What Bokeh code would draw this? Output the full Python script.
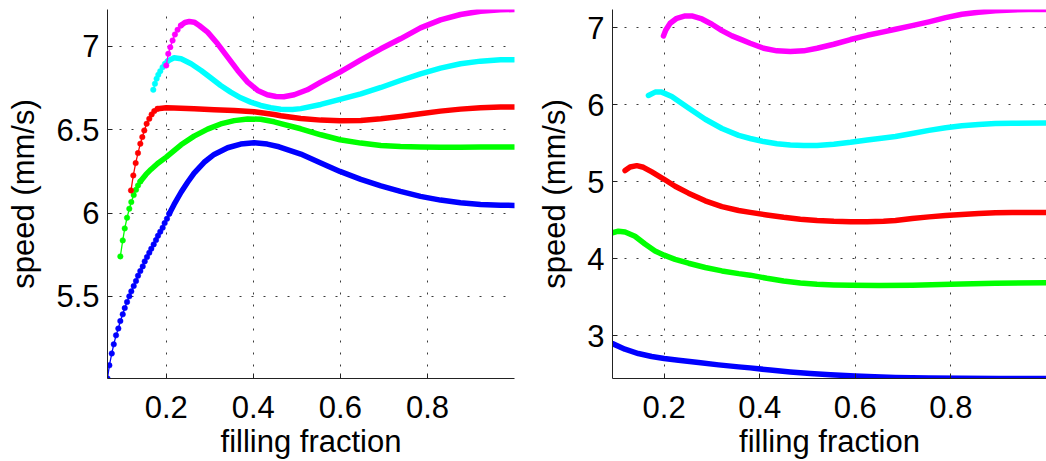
from bokeh.plotting import figure
from bokeh.layouts import row
from bokeh.models import Range1d, FixedTicker
from bokeh.embed import file_html
from bokeh.resources import INLINE

# ---------------- left panel: speed vs filling fraction ----------------
L_BLUE_HEAD_X = [0.065, 0.0693, 0.0748, 0.0794, 0.0846, 0.0899, 0.0945, 0.1000, 0.1046, 0.1099,
                 0.1151, 0.1197, 0.1252, 0.1305, 0.1351, 0.1404, 0.1459, 0.1505, 0.1557, 0.1610,
                 0.1656, 0.1711, 0.1764, 0.1810, 0.1862, 0.1917, 0.1963, 0.2016, 0.2069]
L_BLUE_HEAD_Y = [5.007, 5.086, 5.157, 5.212, 5.266, 5.307, 5.352, 5.392, 5.430, 5.466,
                 5.500, 5.530, 5.562, 5.592, 5.624, 5.652, 5.680, 5.710, 5.736, 5.762,
                 5.786, 5.812, 5.838, 5.864, 5.888, 5.912, 5.940, 5.966, 5.996]
L_BLUE_TAIL_X = [0.2069, 0.218, 0.234, 0.249, 0.264, 0.287, 0.31, 0.341, 0.371, 0.402, 0.432, 0.459,
                 0.509, 0.555, 0.599, 0.647, 0.693, 0.738, 0.784, 0.83, 0.876, 0.922, 0.968, 1.0]
L_BLUE_TAIL_Y = [5.996, 6.052, 6.125, 6.185, 6.24, 6.305, 6.352, 6.392, 6.414, 6.422, 6.414, 6.398,
                 6.354, 6.3, 6.25, 6.202, 6.163, 6.13, 6.1, 6.078, 6.062, 6.052, 6.047, 6.046]

L_GREEN_HEAD_X = [0.0945, 0.1, 0.1046, 0.1099, 0.1151, 0.1197, 0.1252, 0.1305, 0.1351, 0.1404]
L_GREEN_HEAD_Y = [5.74, 5.836, 5.908, 5.972, 6.026, 6.066, 6.108, 6.14, 6.166, 6.19]
L_GREEN_TAIL_X = [0.1404, 0.1534, 0.1648, 0.1801, 0.2, 0.211, 0.234, 0.264, 0.295, 0.325, 0.356,
                  0.387, 0.417, 0.448, 0.463, 0.509, 0.555, 0.599, 0.647, 0.693, 0.738, 0.784,
                  0.83, 0.876, 0.922, 0.968, 1.0]
L_GREEN_TAIL_Y = [6.19, 6.232, 6.262, 6.298, 6.336, 6.36, 6.41, 6.462, 6.504, 6.535, 6.555,
                  6.565, 6.563, 6.548, 6.537, 6.506, 6.47, 6.44, 6.42, 6.406, 6.399, 6.396,
                  6.395, 6.395, 6.396, 6.396, 6.396]

L_RED_HEAD_X = [0.119, 0.1243, 0.1297, 0.135, 0.1404, 0.145, 0.1495, 0.1549, 0.161, 0.1664, 0.1725, 0.18]
L_RED_HEAD_Y = [6.136, 6.226, 6.30, 6.36, 6.416, 6.456, 6.496, 6.536, 6.566, 6.592, 6.612, 6.626]
L_RED_TAIL_X = [0.18, 0.2, 0.218, 0.264, 0.31, 0.356, 0.402, 0.448, 0.463, 0.509, 0.555, 0.599,
                0.647, 0.693, 0.738, 0.784, 0.83, 0.876, 0.922, 0.968, 1.0]
L_RED_TAIL_Y = [6.626, 6.632, 6.63, 6.626, 6.62, 6.616, 6.608, 6.592, 6.584, 6.568, 6.558, 6.554,
                6.556, 6.566, 6.58, 6.596, 6.612, 6.624, 6.632, 6.636, 6.637]

L_CYAN_HEAD_X = [0.1702, 0.174, 0.1778, 0.1817, 0.1862, 0.1916, 0.197, 0.203]
L_CYAN_HEAD_Y = [6.74, 6.776, 6.806, 6.83, 6.852, 6.876, 6.896, 6.912]
L_CYAN_TAIL_X = [0.203, 0.218, 0.234, 0.257, 0.28, 0.302, 0.325, 0.348, 0.371, 0.394, 0.417, 0.44,
                 0.463, 0.49, 0.509, 0.555, 0.599, 0.647, 0.693, 0.738, 0.784, 0.83, 0.876, 0.922,
                 0.968, 1.0]
L_CYAN_TAIL_Y = [6.912, 6.932, 6.926, 6.896, 6.856, 6.812, 6.766, 6.726, 6.692, 6.666, 6.646, 6.632,
                 6.623, 6.622, 6.627, 6.652, 6.682, 6.716, 6.754, 6.796, 6.836, 6.87, 6.896, 6.912,
                 6.92, 6.921]

L_MAG_HEAD_X = [0.2, 0.2046, 0.2092, 0.2145, 0.2199, 0.226, 0.2336]
L_MAG_HEAD_Y = [6.886, 6.956, 6.996, 7.036, 7.072, 7.10, 7.126]
L_MAG_TAIL_X = [0.2336, 0.2428, 0.2528, 0.2642, 0.2757, 0.295, 0.318, 0.341, 0.364, 0.387, 0.41,
                0.432, 0.452, 0.47, 0.494, 0.524, 0.555, 0.599, 0.647, 0.693, 0.738, 0.784, 0.83,
                0.876, 0.922, 0.968, 1.0]
L_MAG_TAIL_Y = [7.126, 7.144, 7.15, 7.146, 7.126, 7.086, 7.016, 6.936, 6.856, 6.786, 6.736,
                6.71, 6.70, 6.698, 6.71, 6.74, 6.786, 6.846, 6.92, 6.986, 7.046, 7.112, 7.16,
                7.192, 7.212, 7.22, 7.222]

# ---------------- right panel ----------------
R_BLUE_X = [0.092, 0.118, 0.146, 0.174, 0.2, 0.23, 0.272, 0.314, 0.356, 0.38, 0.422, 0.464, 0.506,
            0.548, 0.6, 0.64, 0.684, 0.754, 0.823, 0.9, 1.0]
R_BLUE_Y = [2.896, 2.823, 2.767, 2.728, 2.702, 2.68, 2.65, 2.62, 2.594, 2.581, 2.553, 2.528, 2.508,
            2.492, 2.477, 2.465, 2.455, 2.448, 2.445, 2.443, 2.443]

R_GREEN_X = [0.092, 0.1044, 0.1183, 0.139, 0.16, 0.181, 0.2, 0.223, 0.251, 0.286, 0.321, 0.356,
             0.38, 0.415, 0.45, 0.485, 0.52, 0.555, 0.59, 0.65, 0.72, 0.8, 0.893, 1.0]
R_GREEN_Y = [4.335, 4.356, 4.345, 4.29, 4.19, 4.1, 4.045, 3.99, 3.94, 3.885, 3.84, 3.805,
             3.785, 3.745, 3.71, 3.684, 3.667, 3.658, 3.653, 3.65, 3.655, 3.668, 3.68, 3.687]

R_RED_X = [0.1183, 0.1288, 0.1428, 0.1567, 0.1742, 0.2, 0.223, 0.251, 0.286, 0.321, 0.356, 0.38,
           0.415, 0.45, 0.485, 0.52, 0.555, 0.59, 0.625, 0.659, 0.684, 0.719, 0.754, 0.789, 0.823,
           0.858, 0.893, 0.928, 1.0]
R_RED_Y = [5.143, 5.19, 5.207, 5.186, 5.125, 5.03, 4.94, 4.85, 4.75, 4.675, 4.625, 4.6,
           4.567, 4.537, 4.512, 4.495, 4.484, 4.479, 4.479, 4.485, 4.495, 4.52, 4.542, 4.559, 4.572,
           4.585, 4.594, 4.598, 4.6]

R_CYAN_X = [0.1672, 0.1812, 0.195, 0.216, 0.251, 0.286, 0.321, 0.356, 0.38, 0.408, 0.436, 0.464,
            0.492, 0.52, 0.555, 0.59, 0.625, 0.659, 0.684, 0.719, 0.754, 0.789, 0.823, 0.858, 0.893,
            0.928, 1.0]
R_CYAN_Y = [6.119, 6.162, 6.162, 6.106, 5.955, 5.81, 5.69, 5.6, 5.56, 5.52, 5.492, 5.475,
            5.468, 5.47, 5.486, 5.51, 5.54, 5.565, 5.585, 5.625, 5.665, 5.7, 5.725, 5.743, 5.753,
            5.758, 5.76]

R_MAG_X = [0.1986, 0.2035, 0.2126, 0.2265, 0.244, 0.258, 0.279, 0.3, 0.321, 0.342, 0.363, 0.38,
           0.408, 0.436, 0.464, 0.492, 0.52, 0.555, 0.59, 0.625, 0.659, 0.684, 0.719, 0.754, 0.789,
           0.823, 0.858, 0.893, 0.928, 0.963, 1.0]
R_MAG_Y = [6.892, 6.97, 7.056, 7.121, 7.151, 7.151, 7.112, 7.043, 6.961, 6.892, 6.84, 6.797,
           6.732, 6.698, 6.689, 6.698, 6.732, 6.784, 6.845, 6.9, 6.945, 6.978, 7.025, 7.075, 7.13,
           7.173, 7.199, 7.22, 7.23, 7.235, 7.235]

X_TICKS = [0.2, 0.4, 0.6, 0.8]
L_Y_TICKS = [5.5, 6, 6.5, 7]
R_Y_TICKS = [3, 4, 5, 6, 7]

COLORS = {"b": "#0000ff", "g": "#00ff00", "r": "#ff0000", "c": "#00ffff", "m": "#ff00ff"}
FONT = "Liberation Sans"


def style(p, yticks):
    p.outline_line_color = None
    p.background_fill_color = "white"
    p.border_fill_color = "white"
    p.xaxis.ticker = FixedTicker(ticks=X_TICKS)
    p.yaxis.ticker = FixedTicker(ticks=yticks)
    p.xaxis.major_label_overrides = {t: f"{t:g}" for t in X_TICKS}
    p.yaxis.major_label_overrides = {t: f"{t:g}" for t in yticks}
    for ax in (p.xaxis[0], p.yaxis[0]):
        ax.axis_line_color = "#222222"
        ax.axis_line_width = 1
        ax.major_tick_in = 5
        ax.major_tick_out = 0
        ax.major_tick_line_color = "#222222"
        ax.minor_tick_line_color = None
        ax.major_label_text_font = FONT
        ax.major_label_text_font_size = "31px"
        ax.major_label_text_color = "black"
        ax.axis_label_text_font = FONT
        ax.axis_label_text_font_size = "31px"
        ax.axis_label_text_font_style = "normal"
        ax.axis_label_text_color = "black"
    p.xaxis.axis_label = "filling fraction"
    p.yaxis.axis_label = "speed (mm/s)"
    p.xaxis.major_label_standoff = 17
    p.xaxis.axis_label_standoff = 3
    p.yaxis.major_label_standoff = 8
    p.yaxis.axis_label_standoff = 12
    for g in (p.xgrid[0], p.ygrid[0]):
        g.grid_line_color = "#3a3a3a"
        g.grid_line_dash = "2 10"
        g.grid_line_width = 1


# left figure
p1 = figure(width=530, height=461, x_range=Range1d(0.065, 1.0), y_range=Range1d(5.007, 7.222),
            output_backend="svg", toolbar_location=None,
            min_border_left=107, min_border_right=16, min_border_top=9, min_border_bottom=83)
style(p1, L_Y_TICKS)

left_curves = [
    ("b", L_BLUE_HEAD_X, L_BLUE_HEAD_Y, L_BLUE_TAIL_X, L_BLUE_TAIL_Y),
    ("g", L_GREEN_HEAD_X, L_GREEN_HEAD_Y, L_GREEN_TAIL_X, L_GREEN_TAIL_Y),
    ("r", L_RED_HEAD_X, L_RED_HEAD_Y, L_RED_TAIL_X, L_RED_TAIL_Y),
    ("c", L_CYAN_HEAD_X, L_CYAN_HEAD_Y, L_CYAN_TAIL_X, L_CYAN_TAIL_Y),
    ("m", L_MAG_HEAD_X, L_MAG_HEAD_Y, L_MAG_TAIL_X, L_MAG_TAIL_Y),
]
for key, hx, hy, tx, ty in left_curves:
    c = COLORS[key]
    # sparse leading samples: thin connecting line with dot markers
    p1.line(hx, hy, line_color=c, line_width=1.3)
    p1.scatter(hx, hy, size=5.5, fill_color=c, line_color=c, line_width=0.5)
    # dense samples merge into a thick band
    p1.line(tx, ty, line_color=c, line_width=5.5, line_cap="round", line_join="round")

# right figure
p2 = figure(width=516, height=461, x_range=Range1d(0.092, 1.0), y_range=Range1d(2.443, 7.235),
            output_backend="svg", toolbar_location=None,
            min_border_left=82, min_border_right=0, min_border_top=9, min_border_bottom=83)
style(p2, R_Y_TICKS)

right_curves = [
    ("b", R_BLUE_X, R_BLUE_Y),
    ("g", R_GREEN_X, R_GREEN_Y),
    ("r", R_RED_X, R_RED_Y),
    ("c", R_CYAN_X, R_CYAN_Y),
    ("m", R_MAG_X, R_MAG_Y),
]
for key, xs, ys in right_curves:
    p2.line(xs, ys, line_color=COLORS[key], line_width=5.5, line_cap="round", line_join="round")

layout = row(p1, p2)
open("out.html", "w").write(file_html(layout, INLINE))
